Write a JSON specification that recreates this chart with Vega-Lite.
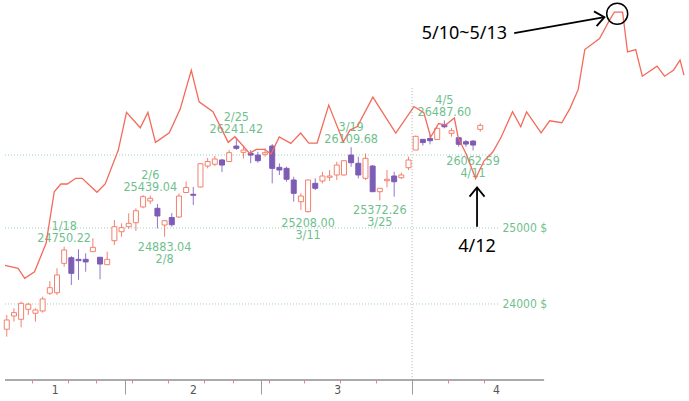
{
  "$schema": "https://vega.github.io/schema/vega-lite/v6.json",
  "width": 689,
  "height": 380,
  "autosize": {"type": "none"},
  "padding": {"left": 0, "top": 0, "right": 0, "bottom": 21},
  "background": "white",
  "config": {"view": {"stroke": null}, "axisX": {"labelOverlap": false}},
  "datasets": {
    "candles": [
      {"t": 0, "date": "1/8", "open": 23677, "high": 23859, "low": 23583, "close": 23795},
      {"t": 1, "date": "1/9", "open": 23846, "high": 23945, "low": 23774, "close": 23889},
      {"t": 2, "date": "1/10", "open": 23804, "high": 24030, "low": 23702, "close": 24009},
      {"t": 3, "date": "1/11", "open": 23932, "high": 24017, "low": 23859, "close": 23997},
      {"t": 4, "date": "1/14", "open": 23881, "high": 23945, "low": 23774, "close": 23923},
      {"t": 5, "date": "1/15", "open": 23910, "high": 24095, "low": 23889, "close": 24065},
      {"t": 6, "date": "1/16", "open": 24139, "high": 24298, "low": 24117, "close": 24211},
      {"t": 7, "date": "1/17", "open": 24146, "high": 24465, "low": 24117, "close": 24377},
      {"t": 8, "date": "1/18", "open": 24530, "high": 24750.22, "low": 24486, "close": 24706},
      {"t": 9, "date": "1/22", "open": 24604, "high": 24625, "low": 24246, "close": 24399},
      {"t": 10, "date": "1/23", "open": 24583, "high": 24716, "low": 24312, "close": 24565},
      {"t": 11, "date": "1/24", "open": 24583, "high": 24663, "low": 24420, "close": 24548},
      {"t": 12, "date": "1/25", "open": 24684, "high": 24862, "low": 24680, "close": 24742},
      {"t": 13, "date": "1/28", "open": 24610, "high": 24614, "low": 24321, "close": 24521},
      {"t": 14, "date": "1/29", "open": 24512, "high": 24684, "low": 24508, "close": 24583},
      {"t": 15, "date": "1/30", "open": 24830, "high": 25108, "low": 24773, "close": 25017},
      {"t": 16, "date": "1/31", "open": 24950, "high": 25063, "low": 24884, "close": 25004},
      {"t": 17, "date": "2/1", "open": 25017, "high": 25198, "low": 24987, "close": 25063},
      {"t": 18, "date": "2/4", "open": 25071, "high": 25266, "low": 24960, "close": 25233},
      {"t": 19, "date": "2/5", "open": 25284, "high": 25447, "low": 25266, "close": 25424},
      {"t": 20, "date": "2/6", "open": 25365, "high": 25439.04, "low": 25324, "close": 25402},
      {"t": 21, "date": "2/7", "open": 25266, "high": 25324, "low": 24996, "close": 25162},
      {"t": 22, "date": "2/8", "open": 25040, "high": 25108, "low": 24883.04, "close": 25098},
      {"t": 23, "date": "2/11", "open": 25141, "high": 25202, "low": 25017, "close": 25044},
      {"t": 24, "date": "2/12", "open": 25148, "high": 25468, "low": 25135, "close": 25433},
      {"t": 25, "date": "2/13", "open": 25481, "high": 25632, "low": 25474, "close": 25550},
      {"t": 26, "date": "2/14", "open": 25457, "high": 25557, "low": 25311, "close": 25443},
      {"t": 27, "date": "2/15", "open": 25557, "high": 25884, "low": 25550, "close": 25878},
      {"t": 28, "date": "2/19", "open": 25846, "high": 25958, "low": 25814, "close": 25909},
      {"t": 29, "date": "2/20", "open": 25871, "high": 25985, "low": 25846, "close": 25944},
      {"t": 30, "date": "2/21", "open": 25930, "high": 25944, "low": 25763, "close": 25860},
      {"t": 31, "date": "2/22", "open": 25909, "high": 26069, "low": 25906, "close": 26032},
      {"t": 32, "date": "2/25", "open": 26125, "high": 26241.42, "low": 26069, "close": 26093},
      {"t": 33, "date": "2/26", "open": 26037, "high": 26115, "low": 25953, "close": 26069},
      {"t": 34, "date": "2/27", "open": 26023, "high": 26069, "low": 25884, "close": 25999},
      {"t": 35, "date": "2/28", "open": 25999, "high": 26046, "low": 25892, "close": 25920},
      {"t": 36, "date": "3/1", "open": 26009, "high": 26093, "low": 25976, "close": 26032},
      {"t": 37, "date": "3/4", "open": 26125, "high": 26153, "low": 25607, "close": 25814},
      {"t": 38, "date": "3/5", "open": 25828, "high": 25884, "low": 25722, "close": 25791},
      {"t": 39, "date": "3/6", "open": 25814, "high": 25837, "low": 25629, "close": 25663},
      {"t": 40, "date": "3/7", "open": 25653, "high": 25698, "low": 25356, "close": 25470},
      {"t": 41, "date": "3/8", "open": 25356, "high": 25470, "low": 25243, "close": 25433},
      {"t": 42, "date": "3/11", "open": 25220, "high": 25660, "low": 25208.0, "close": 25653},
      {"t": 43, "date": "3/12", "open": 25607, "high": 25676, "low": 25515, "close": 25539},
      {"t": 44, "date": "3/13", "open": 25639, "high": 25767, "low": 25607, "close": 25708},
      {"t": 45, "date": "3/14", "open": 25690, "high": 25791, "low": 25639, "close": 25708},
      {"t": 46, "date": "3/15", "open": 25722, "high": 25906, "low": 25653, "close": 25860},
      {"t": 47, "date": "3/18", "open": 25722, "high": 25930, "low": 25715, "close": 25920},
      {"t": 48, "date": "3/19", "open": 25999, "high": 26109.68, "low": 25837, "close": 25892},
      {"t": 49, "date": "3/20", "open": 25884, "high": 25976, "low": 25676, "close": 25722},
      {"t": 50, "date": "3/21", "open": 25676, "high": 26023, "low": 25653, "close": 25953},
      {"t": 51, "date": "3/22", "open": 25846, "high": 25860, "low": 25488, "close": 25492},
      {"t": 52, "date": "3/25", "open": 25492, "high": 25543, "low": 25372.26, "close": 25539},
      {"t": 53, "date": "3/26", "open": 25643, "high": 25791, "low": 25552, "close": 25663},
      {"t": 54, "date": "3/27", "open": 25708, "high": 25767, "low": 25424, "close": 25629},
      {"t": 55, "date": "3/28", "open": 25685, "high": 25756, "low": 25667, "close": 25722},
      {"t": 56, "date": "3/29", "open": 25823, "high": 25976, "low": 25791, "close": 25930},
      {"t": 57, "date": "4/1", "open": 26069, "high": 26273, "low": 26069, "close": 26262},
      {"t": 58, "date": "4/2", "open": 26219, "high": 26223, "low": 26132, "close": 26174},
      {"t": 59, "date": "4/3", "open": 26231, "high": 26280, "low": 26149, "close": 26200},
      {"t": 60, "date": "4/4", "open": 26217, "high": 26386, "low": 26217, "close": 26375},
      {"t": 61, "date": "4/5", "open": 26431, "high": 26487.6, "low": 26375, "close": 26397},
      {"t": 62, "date": "4/8", "open": 26304, "high": 26379, "low": 26256, "close": 26341},
      {"t": 63, "date": "4/9", "open": 26242, "high": 26256, "low": 26115, "close": 26149},
      {"t": 64, "date": "4/10", "open": 26186, "high": 26210, "low": 26115, "close": 26153},
      {"t": 65, "date": "4/11", "open": 26195, "high": 26210, "low": 26062.59, "close": 26139},
      {"t": 66, "date": "4/12", "open": 26360, "high": 26445, "low": 26326, "close": 26417}
    ],
    "line": [
      {"t": -0.247, "v": 24502}, {"t": 1.58, "v": 24465}, {"t": 2.5, "v": 24334}, {"t": 3.87, "v": 24420},
      {"t": 5.48, "v": 24795}, {"t": 6.62, "v": 25492}, {"t": 7.54, "v": 25598}, {"t": 8.45, "v": 25598},
      {"t": 9.6, "v": 25676}, {"t": 10.51, "v": 25676}, {"t": 12.57, "v": 25484}, {"t": 13.72, "v": 25598},
      {"t": 15.55, "v": 26069}, {"t": 16.69, "v": 26602}, {"t": 18.61, "v": 26383}, {"t": 19.67, "v": 26602},
      {"t": 20.73, "v": 26177}, {"t": 22.65, "v": 26312}, {"t": 24.16, "v": 26645}, {"t": 25.72, "v": 27211},
      {"t": 26.81, "v": 26753}, {"t": 28.74, "v": 26610}, {"t": 30.87, "v": 26177}, {"t": 31.8, "v": 26256},
      {"t": 33.86, "v": 26023}, {"t": 34.78, "v": 26079}, {"t": 35.92, "v": 26079}, {"t": 36.84, "v": 26013},
      {"t": 37.98, "v": 26252}, {"t": 39.59, "v": 26163}, {"t": 40.96, "v": 26308}, {"t": 42.1, "v": 26167},
      {"t": 43.26, "v": 26167}, {"t": 44.88, "v": 26706}, {"t": 46.91, "v": 26186}, {"t": 47.83, "v": 26350},
      {"t": 48.86, "v": 26400}, {"t": 51.03, "v": 26821}, {"t": 54.22, "v": 26308}, {"t": 56.76, "v": 26685},
      {"t": 58.13, "v": 26599}, {"t": 59.09, "v": 26252}, {"t": 60.2, "v": 26443}, {"t": 61.16, "v": 26421},
      {"t": 62.39, "v": 26521}, {"t": 62.94, "v": 26238}, {"t": 64.04, "v": 26013}, {"t": 65.35, "v": 25673},
      {"t": 66.51, "v": 25916}, {"t": 67.75, "v": 26041}, {"t": 68.92, "v": 26252}, {"t": 70.5, "v": 26610},
      {"t": 71.64, "v": 26397}, {"t": 72.46, "v": 26610}, {"t": 74.48, "v": 26312}, {"t": 75.68, "v": 26482},
      {"t": 77.37, "v": 26454}, {"t": 78.51, "v": 26659}, {"t": 79.66, "v": 26932}, {"t": 80.57, "v": 27515},
      {"t": 82.63, "v": 27677}, {"t": 84.0, "v": 27949}, {"t": 84.69, "v": 28073}, {"t": 85.84, "v": 28073},
      {"t": 86.53, "v": 27479}, {"t": 87.67, "v": 27515}, {"t": 88.59, "v": 27124}, {"t": 90.65, "v": 27270},
      {"t": 91.69, "v": 27124}, {"t": 92.93, "v": 27211}, {"t": 93.85, "v": 27358}, {"t": 94.4, "v": 27139}
    ],
    "highs": [
      {"t": 8, "date": "1/18", "price": 24750.22},
      {"t": 20, "date": "2/6", "price": 25439.04},
      {"t": 32, "date": "2/25", "price": 26241.42},
      {"t": 48, "date": "3/19", "price": 26109.68},
      {"t": 61, "date": "4/5", "price": 26487.6}
    ],
    "lows": [
      {"t": 22, "date": "2/8", "price": 24883.04},
      {"t": 42, "date": "3/11", "price": 25208.0},
      {"t": 52, "date": "3/25", "price": 25372.26},
      {"t": 65, "date": "4/11", "price": 26062.59}
    ],
    "levels": [
      {"level": 24000, "label": "24000 $"},
      {"level": 25000, "label": "25000 $"},
      {"level": 26000, "label": ""}
    ]
  },
  "layer": [
    {
      "data": {"name": "levels"},
      "mark": {"type": "rule", "stroke": "#9fd3b8", "strokeDash": [1, 2], "strokeWidth": 1},
      "encoding": {
        "x": {"datum": -0.247, "type": "quantitative",
          "scale": {"domain": [-0.247, 94.4], "nice": false, "zero": false},
          "axis": {
            "title": null,
            "domain": false,
            "grid": false,
            "values": [3.5, 8.5, 12.5, 16.5, 17.5, 22.5, 27.5, 31.5, 35.5, 36.5, 41.5, 46.5, 51.5, 56.5, 61.5, 66.5],
            "tickColor": {"condition": {"test": "indexof([16.5, 35.5, 56.5], datum.value) >= 0", "value": "#9a9a9a"}, "value": "#f4837a"},
            "tickSize": 14,
            "tickDash": {"condition": {"test": "indexof([16.5, 35.5, 56.5], datum.value) >= 0", "value": [14, 0]}, "value": [3, 20]},
            "tickWidth": 1,
            "labelExpr": "datum.value == 3.5 ? '1' : datum.value == 27.5 ? '2' : datum.value == 46.5 ? '3' : datum.value == 66.5 ? '4' : ''",
            "labelOffset": {"expr": "datum.value == 3.5 ? 22.7 : datum.value == 27.5 ? -11 : datum.value == 46.5 ? -3.3 : datum.value == 66.5 ? 12.1 : 0"},
            "labelFont": "Liberation Sans Narrow, DejaVu Sans Condensed, sans-serif",
            "labelFontSize": 12,
            "labelColor": "#555555",
            "labelPadding": -10,
            "labelOverlap": false,
            "labelFlush": false,
            "labelBound": false
          }
        },
        "x2": {"datum": 68.67},
        "y": {"field": "level", "type": "quantitative",
          "scale": {"type": "log", "domain": [23040, 28257], "nice": false, "zero": false},
          "axis": null}
      }
    },
    {
      "data": {"name": "levels"},
      "mark": {"type": "text", "align": "left", "baseline": "middle", "color": "#6fbf8e",
        "font": "Liberation Sans Narrow, DejaVu Sans Condensed, sans-serif", "fontSize": 12},
      "encoding": {
        "x": {"datum": 69.1, "type": "quantitative"},
        "y": {"field": "level", "type": "quantitative"},
        "text": {"field": "label"}
      }
    },
    {
      "data": {"values": [{"month": "4"}]},
      "mark": {"type": "rule", "stroke": "#b0b0b0", "strokeDash": [1, 2], "strokeWidth": 1},
      "encoding": {
        "x": {"datum": 56.5, "type": "quantitative"},
        "y": {"datum": 26950, "type": "quantitative"},
        "y2": {"datum": 23040}
      }
    },
    {
      "data": {"values": [{"axis": "x"}]},
      "mark": {"type": "rule", "stroke": "#8f8f8f", "strokeWidth": 1.5},
      "encoding": {
        "x": {"datum": -0.247, "type": "quantitative"},
        "x2": {"datum": 74.9},
        "y": {"datum": 23040, "type": "quantitative"}
      }
    },
    {
      "data": {"name": "candles"},
      "mark": {"type": "rule", "strokeWidth": 1},
      "encoding": {
        "x": {"field": "t", "type": "quantitative"},
        "y": {"field": "low", "type": "quantitative"},
        "y2": {"field": "high"},
        "color": {"condition": {"test": "datum.close >= datum.open", "value": "#f4806e"}, "value": "#9178c6"}
      }
    },
    {
      "data": {"name": "candles"},
      "mark": {"type": "bar", "width": 5, "strokeWidth": 1},
      "encoding": {
        "x": {"field": "t", "type": "quantitative"},
        "y": {"field": "open", "type": "quantitative"},
        "y2": {"field": "close"},
        "fill": {"condition": {"test": "datum.close >= datum.open", "value": "#ffffff"}, "value": "#7d5cb5"},
        "stroke": {"condition": {"test": "datum.close >= datum.open", "value": "#f4806e"}, "value": "#7d5cb5"}
      }
    },
    {
      "data": {"name": "highs"},
      "mark": {"type": "text", "align": "center", "baseline": "alphabetic", "dy": -4.5, "color": "#6fbf8e",
        "font": "Liberation Sans Narrow, DejaVu Sans Condensed, sans-serif", "fontSize": 12.5},
      "encoding": {
        "x": {"field": "t", "type": "quantitative"},
        "y": {"field": "price", "type": "quantitative"},
        "text": {"field": "price", "format": ".2f"}
      }
    },
    {
      "data": {"name": "highs"},
      "mark": {"type": "text", "align": "center", "baseline": "alphabetic", "dy": -16.5, "color": "#6fbf8e",
        "font": "Liberation Sans Narrow, DejaVu Sans Condensed, sans-serif", "fontSize": 12.5},
      "encoding": {
        "x": {"field": "t", "type": "quantitative"},
        "y": {"field": "price", "type": "quantitative"},
        "text": {"field": "date"}
      }
    },
    {
      "data": {"name": "lows"},
      "mark": {"type": "text", "align": "center", "baseline": "alphabetic", "dy": 14, "color": "#6fbf8e",
        "font": "Liberation Sans Narrow, DejaVu Sans Condensed, sans-serif", "fontSize": 12.5},
      "encoding": {
        "x": {"field": "t", "type": "quantitative"},
        "y": {"field": "price", "type": "quantitative"},
        "text": {"field": "price", "format": ".2f"}
      }
    },
    {
      "data": {"name": "lows"},
      "mark": {"type": "text", "align": "center", "baseline": "alphabetic", "dy": 26, "color": "#6fbf8e",
        "font": "Liberation Sans Narrow, DejaVu Sans Condensed, sans-serif", "fontSize": 12.5},
      "encoding": {
        "x": {"field": "t", "type": "quantitative"},
        "y": {"field": "price", "type": "quantitative"},
        "text": {"field": "date"}
      }
    },
    {
      "data": {"name": "line"},
      "mark": {"type": "line", "color": "#f26b5b", "strokeWidth": 1.3},
      "encoding": {
        "x": {"field": "t", "type": "quantitative"},
        "y": {"field": "v", "type": "quantitative"}
      }
    },
    {
      "data": {"values": [{"t": 85.09, "v": 28049}]},
      "mark": {"type": "point", "shape": "circle", "size": 441, "filled": false, "stroke": "#000000", "strokeWidth": 1.5, "opacity": 1},
      "encoding": {
        "x": {"field": "t", "type": "quantitative"},
        "y": {"field": "v", "type": "quantitative"}
      }
    },
    {
      "data": {"values": [{"t": 70.73, "v": 27760, "t2": 83.31, "v2": 27998}, {"t": 65.55, "v": 25017, "t2": 65.55, "v2": 25552}]},
      "mark": {"type": "rule", "stroke": "#000000", "strokeWidth": 1.8},
      "encoding": {
        "x": {"field": "t", "type": "quantitative"},
        "y": {"field": "v", "type": "quantitative"},
        "x2": {"field": "t2"},
        "y2": {"field": "v2"}
      }
    },
    {
      "data": {"values": [{"t": 83.31, "v": 27998, "angle": 80}, {"t": 65.55, "v": 25552, "angle": 0}]},
      "mark": {"type": "point", "shape": "M-1,1.24L0,0L1,1.24", "size": 225, "filled": false, "stroke": "#000000", "strokeWidth": 1.8, "opacity": 1},
      "encoding": {
        "x": {"field": "t", "type": "quantitative"},
        "y": {"field": "v", "type": "quantitative"},
        "angle": {"field": "angle", "type": "quantitative", "scale": null}
      }
    },
    {
      "data": {"values": [{"t": 63.79, "v": 27751, "label": "5/10~5/13"}, {"t": 65.55, "v": 24746, "label": "4/12"}]},
      "mark": {"type": "text", "align": "center", "baseline": "middle", "color": "#000000", "font": "Noto Sans, sans-serif", "fontSize": 18},
      "encoding": {
        "x": {"field": "t", "type": "quantitative"},
        "y": {"field": "v", "type": "quantitative"},
        "text": {"field": "label"}
      }
    }
  ]
}
